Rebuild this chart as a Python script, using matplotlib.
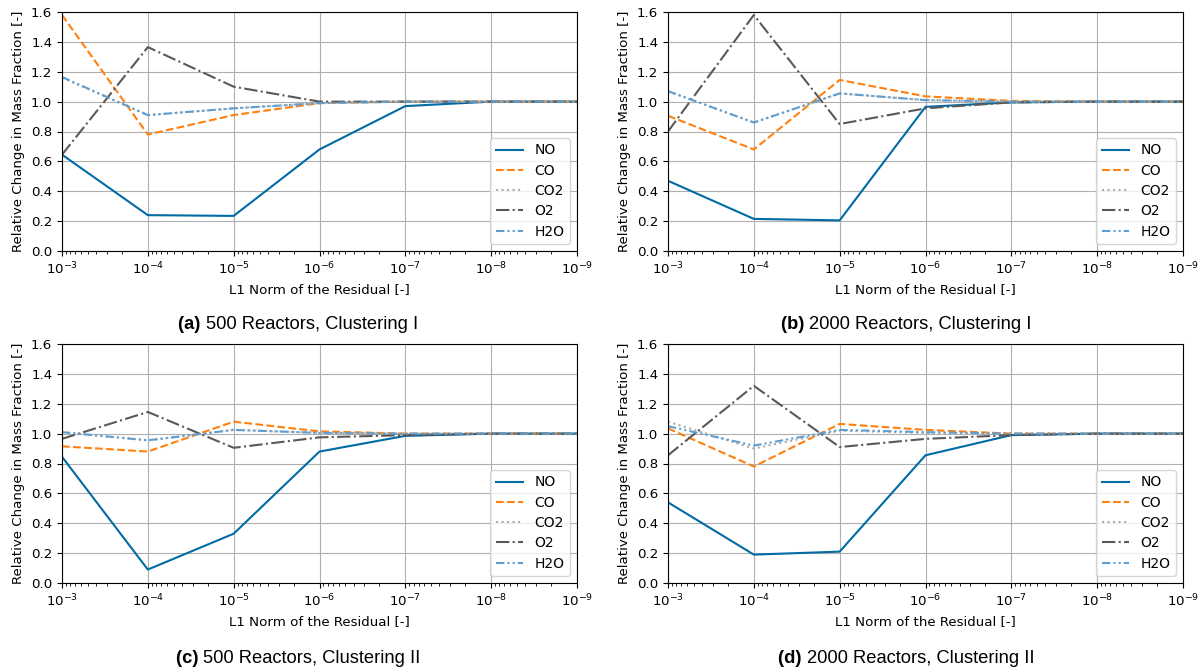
import matplotlib
matplotlib.use("Agg")
import matplotlib.pyplot as plt
import numpy as np

residual = [1e-3, 1e-4, 1e-5, 1e-6, 1e-7, 1e-8, 1e-9]
species = ["NO", "CO", "CO2", "O2", "H2O"]

# Panel (a) 500 Reactors, Clustering I
a_NO  = [0.645, 0.24, 0.235, 0.68, 0.97, 1.0, 1.0]
a_CO  = [1.58, 0.78, 0.91, 0.99, 1.0, 1.0, 1.0]
a_CO2 = [1.16, 0.91, 0.955, 0.99, 1.0, 1.0, 1.0]
a_O2  = [0.645, 1.365, 1.10, 1.0, 1.0, 1.0, 1.0]
a_H2O = [1.165, 0.91, 0.955, 0.99, 1.0, 1.0, 1.0]

# Panel (b) 2000 Reactors, Clustering I
b_NO  = [0.47, 0.215, 0.205, 0.965, 0.995, 1.0, 1.0]
b_CO  = [0.905, 0.68, 1.145, 1.035, 1.005, 1.0, 1.0]
b_CO2 = [1.07, 0.86, 1.055, 1.01, 1.0, 1.0, 1.0]
b_O2  = [0.80, 1.58, 0.85, 0.955, 0.995, 1.0, 1.0]
b_H2O = [1.07, 0.86, 1.055, 1.01, 1.0, 1.0, 1.0]

# Panel (c) 500 Reactors, Clustering II
c_NO  = [0.845, 0.09, 0.33, 0.88, 0.985, 1.0, 1.0]
c_CO  = [0.915, 0.88, 1.08, 1.015, 1.0, 1.0, 1.0]
c_CO2 = [1.01, 0.955, 1.025, 1.005, 1.0, 1.0, 1.0]
c_O2  = [0.965, 1.145, 0.905, 0.975, 0.99, 1.0, 1.0]
c_H2O = [1.01, 0.955, 1.025, 1.005, 1.0, 1.0, 1.0]

# Panel (d) 2000 Reactors, Clustering II
d_NO  = [0.54, 0.19, 0.21, 0.855, 0.99, 1.0, 1.0]
d_CO  = [1.035, 0.78, 1.065, 1.025, 1.0, 1.0, 1.0]
d_CO2 = [1.08, 0.90, 1.02, 1.005, 1.0, 1.0, 1.0]
d_O2  = [0.855, 1.32, 0.91, 0.965, 0.99, 1.0, 1.0]
d_H2O = [1.05, 0.92, 1.025, 1.01, 1.0, 1.0, 1.0]

captions = [("(a)", "500 Reactors, Clustering I"),
            ("(b)", "2000 Reactors, Clustering I"),
            ("(c)", "500 Reactors, Clustering II"),
            ("(d)", "2000 Reactors, Clustering II")]

panels = [
    [a_NO, a_CO, a_CO2, a_O2, a_H2O],
    [b_NO, b_CO, b_CO2, b_O2, b_H2O],
    [c_NO, c_CO, c_CO2, c_O2, c_H2O],
    [d_NO, d_CO, d_CO2, d_O2, d_H2O],
]

colors = ["#006BA4", "#FF800E", "#ABABAB", "#595959", "#5F9ED1"]
styles = ["-", (0, (3.7, 1.6)), (0, (1, 1.65)), (0, (6.4, 1.6, 1, 1.6)),
          (0, (4, 1.5, 1, 1.5, 1, 1.5))]

plt.rcParams["font.family"] = ["DejaVu Sans"]
FS = 9.6

W, H = 1201, 668
fig = plt.figure(figsize=(W / 100, H / 100), dpi=100)

lefts = [62, 668, 62, 668]
tops = [12, 12, 344, 344]
aw, ah = 515, 239
cap_x = [298, 906, 298, 906]
cap_y = [324.5, 324.5, 658.5, 658.5]

for i, series in enumerate(panels):
    l, t = lefts[i], tops[i]
    ax = fig.add_axes([l / W, 1 - (t + ah) / H, aw / W, ah / H])
    for s, name in enumerate(species):
        ax.plot(residual, series[s], color=colors[s], linestyle=styles[s],
                linewidth=1.5, label=name)
    ax.set_xscale("log")
    ax.set_xlim(1e-3, 1e-9)
    ax.set_ylim(0, 1.6)
    ax.set_yticks(np.arange(0, 1.61, 0.2))
    ax.grid(True, which="major", color="#b0b0b0", linewidth=0.8)
    ax.set_xlabel("L1 Norm of the Residual [-]", fontsize=FS)
    ax.set_ylabel("Relative Change in Mass Fraction [-]", fontsize=FS)
    ax.tick_params(labelsize=FS)
    ax.legend(loc="lower right", fontsize=10, handlelength=2.0,
              labelspacing=0.45)
    cx = cap_x[i] / W
    cy = 1 - cap_y[i] / H
    lab, txt = captions[i]
    t1 = fig.text(cx, cy, lab + " ", fontsize=13.2, fontweight="bold",
                  family="Liberation Sans", ha="right", va="center")
    t2 = fig.text(cx, cy, txt, fontsize=13.2, family="Liberation Sans",
                  ha="left", va="center")
    # shift pair so the combined caption is centered on cap_x
    fig.canvas.draw()
    r = fig.canvas.get_renderer()
    w1 = t1.get_window_extent(r).width
    w2 = t2.get_window_extent(r).width
    shift = (w1 - w2) / 2 / W
    t1.set_x(cx + shift)
    t2.set_x(cx + shift)

fig.savefig("out.png", dpi=100)
